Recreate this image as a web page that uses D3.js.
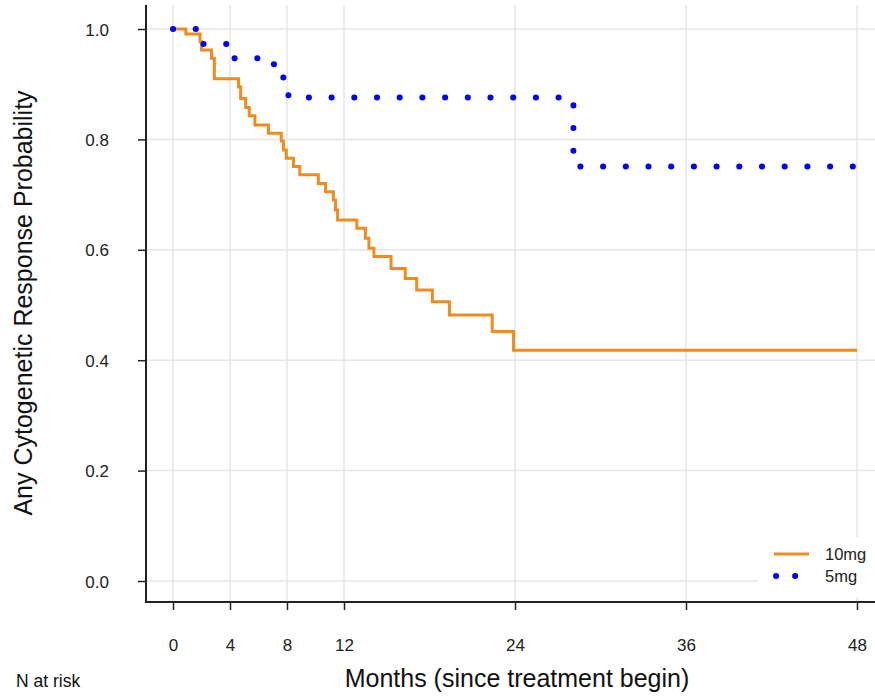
<!DOCTYPE html>
<html>
<head>
<meta charset="utf-8">
<script src="https://cdn.jsdelivr.net/npm/d3@7"></script>
<style>
  body { margin: 0; background: #fff; }
  text { font-family: "Liberation Sans", Arial, Helvetica, sans-serif; }
</style>
</head>
<body>
<div class="viz"></div>
<script>
// Kaplan-Meier steps: month of event, probability after it
const months10 = [0, 0.9, 1.9, 2.0, 2.7, 2.9, 4.6, 4.75, 5.1, 5.35, 5.75, 6.7, 7.6, 7.75, 7.95, 8.45, 8.9,
  10.2, 10.7, 11.25, 11.4, 11.55, 12.9, 13.5, 13.75, 14.1, 15.3, 16.3, 17.1, 18.2, 19.4, 22.4, 23.9, 48]
const prob10 = [1.0, 0.991, 0.977, 0.962, 0.947, 0.910, 0.895, 0.874, 0.858, 0.843, 0.826, 0.811, 0.797, 0.781, 0.766, 0.751, 0.736,
  0.720, 0.705, 0.690, 0.672, 0.654, 0.639, 0.621, 0.603, 0.588, 0.566, 0.548, 0.527, 0.506, 0.482, 0.452, 0.418, 0.418]
const months5 = [0, 1.8, 4.1, 6.6, 7.6, 8.1, 28.1, 48]
const prob5 = [1.0, 0.973, 0.947, 0.936, 0.912, 0.876, 0.751, 0.751]

const xTicks = [0, 4, 8, 12, 24, 36, 48]
const yTicks = [0, 0.2, 0.4, 0.6, 0.8, 1.0]
const seriesNames = ['10mg', '5mg']

const width = 875
const height = 698
const axisX = 146   // left axis line
const axisY = 602   // bottom axis line

const x = d3.scaleLinear().domain([0, 48]).range([173, 857])
const y = d3.scaleLinear().domain([0, 1]).range([581, 29])

const svg = d3.select('.viz')
  .append('svg')
    .attr('width', width)
    .attr('height', height)

// grid
svg.append('g')
  .selectAll('line')
  .data(yTicks).enter().append('line')
    .attr('x1', axisX).attr('x2', width)
    .attr('y1', d => y(d)).attr('y2', d => y(d))
    .attr('stroke', '#e6e6e6').attr('stroke-width', 1.5)
svg.append('g')
  .selectAll('line')
  .data(xTicks).enter().append('line')
    .attr('x1', d => x(d)).attr('x2', d => x(d))
    .attr('y1', 5).attr('y2', axisY)
    .attr('stroke', '#e6e6e6').attr('stroke-width', 1.5)

// curves
const line = d3.line()
  .x(d => x(d[0]))
  .y(d => y(d[1]))
  .curve(d3.curveStepAfter)

svg.append('path')
  .attr('d', line(d3.zip(months10, prob10)))
  .attr('fill', 'none')
  .attr('stroke', '#f08c1e')
  .attr('stroke-width', 3)

svg.append('path')
  .attr('d', line(d3.zip(months5, prob5)))
  .attr('fill', 'none')
  .attr('stroke', '#0000ff')
  .attr('stroke-width', 6)
  .attr('stroke-linecap', 'round')
  .attr('stroke-dasharray', '0.1,22.6')

// legend, with a white box over the grid
const legend = svg.append('g')
legend.append('rect')
  .attr('x', 758).attr('y', 537)
  .attr('width', 130).attr('height', 60)
  .attr('fill', '#fff')
legend.append('line')
  .attr('x1', 774).attr('x2', 809)
  .attr('y1', 554).attr('y2', 554)
  .attr('stroke', '#f08c1e').attr('stroke-width', 3)
legend.append('line')
  .attr('x1', 776).attr('x2', 800)
  .attr('y1', 576).attr('y2', 576)
  .attr('stroke', '#0000ff').attr('stroke-width', 6)
  .attr('stroke-linecap', 'round')
  .attr('stroke-dasharray', '0.1,19')
legend.selectAll('text')
  .data(seriesNames).enter().append('text')
    .text(d => d)
    .attr('x', 825)
    .attr('y', (d, i) => 560 + i * 22)
    .attr('font-size', 16.5)
    .attr('fill', '#222')

// axes
const xAxis = svg.append('g')
  .attr('transform', `translate(0,${axisY})`)
  .call(d3.axisBottom(x).tickValues(xTicks).tickSize(8))
xAxis.select('.domain').remove()
xAxis.selectAll('.tick line').attr('stroke', '#222').attr('stroke-width', 1.5)
xAxis.selectAll('.tick text')
  .attr('y', 48.5).attr('dy', 0)
  .attr('font-size', 17).attr('fill', '#222')
  .attr('font-family', '"Liberation Sans", Arial, sans-serif')

const yAxis = svg.append('g')
  .attr('transform', `translate(${axisX},0)`)
  .call(d3.axisLeft(y).tickValues(yTicks).tickSize(8).tickFormat(d3.format('.1f')))
yAxis.select('.domain').remove()
yAxis.selectAll('.tick line').attr('stroke', '#222').attr('stroke-width', 1.5)
yAxis.selectAll('.tick text')
  .attr('x', -37).attr('dy', '0.36em')
  .attr('font-size', 17).attr('fill', '#222')
  .attr('font-family', '"Liberation Sans", Arial, sans-serif')

svg.append('line')
  .attr('x1', axisX).attr('x2', axisX)
  .attr('y1', 5).attr('y2', axisY + 1)
  .attr('stroke', '#222').attr('stroke-width', 2)
svg.append('line')
  .attr('x1', axisX - 1).attr('x2', width)
  .attr('y1', axisY).attr('y2', axisY)
  .attr('stroke', '#222').attr('stroke-width', 2)

// titles
svg.append('text')
  .text('Months (since treatment begin)')
  .attr('x', 517).attr('y', 687)
  .attr('text-anchor', 'middle')
  .attr('font-size', 25).attr('fill', '#111')

svg.append('text')
  .text('Any Cytogenetic Response Probability')
  .attr('transform', 'translate(32,303)rotate(-90)')
  .attr('text-anchor', 'middle')
  .attr('font-size', 25).attr('fill', '#111')

svg.append('text')
  .text('N at risk')
  .attr('x', 16).attr('y', 687)
  .attr('font-size', 17.5).attr('fill', '#111')
</script>
</body>
</html>
